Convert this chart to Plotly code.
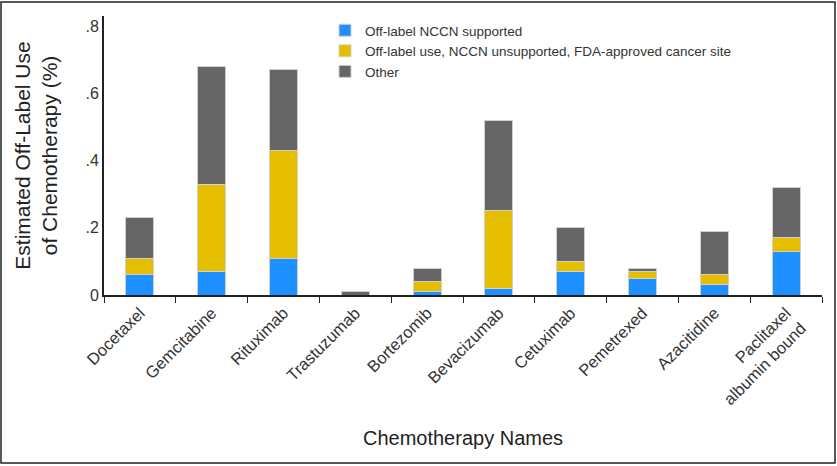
import plotly.graph_objects as go

drugs = ["Docetaxel", "Gemcitabine", "Rituximab", "Trastuzumab", "Bortezomib",
         "Bevacizumab", "Cetuximab", "Pemetrexed", "Azacitidine",
         "Paclitaxel<br>albumin bound"]
# cumulative tops
nccn_supported = [0.06, 0.07, 0.11, 0.0, 0.01, 0.02, 0.07, 0.05, 0.03, 0.13]
top_unsupported = [0.11, 0.33, 0.43, 0.0, 0.04, 0.25, 0.10, 0.07, 0.06, 0.17]
top_total = [0.23, 0.68, 0.67, 0.01, 0.08, 0.52, 0.20, 0.08, 0.19, 0.32]

unsupported = [round(b - a, 3) for a, b in zip(nccn_supported, top_unsupported)]
other = [round(c - b, 3) for b, c in zip(top_unsupported, top_total)]

series_names = ["Off-label NCCN supported",
                "Off-label use, NCCN unsupported, FDA-approved cancer site",
                "Other"]
colors = ["#1E90FF", "#E6BE00", "#666666"]

y_tickvals = [0, 0.2, 0.4, 0.6, 0.8]
y_ticktext = ["0", ".2", ".4", ".6", ".8"]

fig = go.Figure()
for name, vals, col in zip(series_names, [nccn_supported, unsupported, other], colors):
    fig.add_trace(go.Bar(x=drugs, y=vals, name=name, marker_color=col,
                         marker_line_color="#d0d0d0", marker_line_width=1,
                         width=0.39))

W, H = 837, 466
ml, mr, mt, mb = 104, 15, 16, 171
pw, ph = W - ml - mr, H - mt - mb

fig.update_layout(
    width=W, height=H, barmode="stack",
    margin=dict(l=ml, r=mr, t=mt, b=mb, autoexpand=False),
    plot_bgcolor="white", paper_bgcolor="white",
    font=dict(family="Liberation Sans, Arial, sans-serif", color="#222222"),
    showlegend=True,
    legend=dict(traceorder="normal", x=(325 - ml) / pw, y=(295 - 15) / ph,
                xanchor="left", yanchor="top", bgcolor="rgba(0,0,0,0)",
                font=dict(size=13.5, color="#333333"), itemwidth=30,
                tracegroupgap=0),
    xaxis=dict(
        type="category", tickson="boundaries", ticks="outside", ticklen=6,
        tickcolor="#222222", tickwidth=1.2, automargin=False,
        showline=True, linecolor="#222222", linewidth=2,
        tickangle=-45, tickfont=dict(size=16.5, color="#333333"),
        showgrid=False,
        title=dict(text="Chemotherapy Names", font=dict(size=20, color="#222222"),
                   standoff=24),
    ),
    yaxis=dict(
        range=[0, 0.83], tickvals=y_tickvals, ticktext=y_ticktext,
        showline=True, linecolor="#222222", linewidth=2, automargin=False,
        showgrid=False, zeroline=False, ticks="",
        tickfont=dict(size=16, color="#333333"),
        title=dict(text="Estimated Off-Label Use<br>of Chemotherapy (%)",
                   font=dict(size=21, color="#222222"), standoff=22),
    ),
)

# outer frame around the whole picture
fig.add_shape(type="rect", xref="paper", yref="paper",
              x0=(1 - ml) / pw, x1=(835 - ml) / pw,
              y0=(295 - 463) / ph, y1=(295 - 2) / ph,
              line=dict(color="#222222", width=1.5), fillcolor="rgba(0,0,0,0)")

fig.write_html("out.html", config={"displayModeBar": False},
               post_script="document.body.style.margin='0';document.body.style.overflow='hidden';")
